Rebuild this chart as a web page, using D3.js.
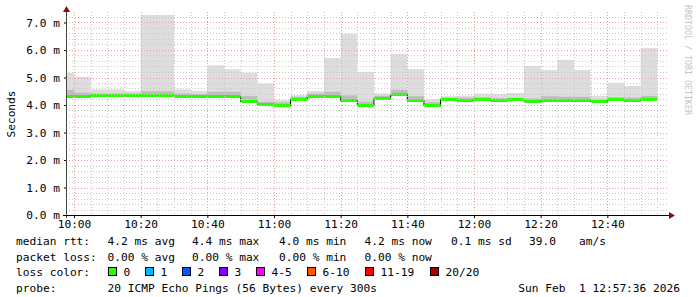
<!DOCTYPE html>
<html>
<head>
<meta charset="utf-8">
<script src="https://cdn.jsdelivr.net/npm/d3@7"></script>
<style>
  body { margin: 0; background: #fff; }
  svg { display: block; }
  text { font-family: "DejaVu Sans Mono", monospace; }
</style>
</head>
<body>
<div id="chart"></div>
<script>
// 5 minute bins, start 09:55 .. 12:50 (values in ms)
var binMinutes = 5;
var pingMax = [5.17, 5.02, 4.57, 4.57, 4.51, 7.30, 7.30, 4.57, 4.51, 5.44, 5.30, 5.17,
               4.78, 4.18, 4.36, 4.51, 5.71, 6.59, 5.20, 4.42, 5.85, 5.31, 4.21, 4.32,
               4.34, 4.41, 4.40, 4.44, 5.42, 5.27, 5.64, 5.27, 4.33, 4.80, 4.69, 6.07];
var pingHi  = [4.55, 4.45, 4.42, 4.42, 4.42, 4.50, 4.50, 4.42, 4.40, 4.48, 4.48, 4.33,
               4.12, 4.10, 4.30, 4.42, 4.48, 4.35, 4.12, 4.33, 4.55, 4.32, 4.10, 4.27,
               4.27, 4.28, 4.25, 4.26, 4.24, 4.32, 4.30, 4.30, 4.20, 4.28, 4.27, 4.33];
var median  = [4.32, 4.32, 4.36, 4.36, 4.36, 4.36, 4.36, 4.32, 4.32, 4.34, 4.34, 4.15,
               4.02, 4.01, 4.21, 4.34, 4.34, 4.18, 4.01, 4.26, 4.39, 4.18, 4.01, 4.22,
               4.19, 4.22, 4.18, 4.21, 4.13, 4.18, 4.18, 4.19, 4.14, 4.20, 4.18, 4.21];
var pingMin = [4.27, 4.27, 4.31, 4.31, 4.31, 4.31, 4.31, 4.27, 4.27, 4.29, 4.29, 4.10,
               3.98, 3.97, 4.16, 4.29, 4.29, 4.13, 3.97, 4.21, 4.33, 4.13, 3.97, 4.17,
               4.15, 4.17, 4.14, 4.16, 4.09, 4.14, 4.14, 4.15, 4.10, 4.16, 4.14, 4.17];

var yTicks = [0, 1, 2, 3, 4, 5, 6, 7];

var rttLabels = ["4.2 ms avg", "4.4 ms max", "4.0 ms min", "4.2 ms now", "0.1 ms sd", "39.0", "am/s"];
var lossLabels = ["0.00 % avg", "0.00 % max", "0.00 % min", "0.00 % now"];
var lossNames = ["0", "1", "2", "3", "4-5", "6-10", "11-19", "20/20"];
var lossColors = ["#26ff00", "#00b8ff", "#0059ff", "#7e00ff", "#ff00ff", "#ff5500", "#ff0000", "#a10000"];
var probeText = "20 ICMP Echo Pings (56 Bytes) every 300s";
var stampText = "Sun Feb  1 12:57:36 2026";

var W = 697, H = 297;
var pLeft = 66, pRight = 666, pTop = 15, pBottom = 215;

var t0 = new Date(2026, 1, 1, 9, 57, 36),
    t1 = new Date(2026, 1, 1, 12, 57, 36),
    firstBin = new Date(2026, 1, 1, 9, 55, 0);

var x = d3.scaleTime().domain([t0, t1]).range([pLeft, pRight]);
var y = d3.scaleLinear().domain([0, 200 / 27.5]).range([pBottom, pTop]);

var bins = median.map(function(m, i) {
  var s = d3.timeMinute.offset(firstBin, i * binMinutes);
  return {start: s, end: d3.timeMinute.offset(s, binMinutes),
          max: pingMax[i], hi: pingHi[i], med: m, min: pingMin[i]};
});

var svg = d3.select("#chart").append("svg")
    .attr("width", W).attr("height", H);

svg.append("rect").attr("width", W).attr("height", H).attr("fill", "#fff");

svg.append("clipPath").attr("id", "plot")
  .append("rect").attr("x", pLeft).attr("y", pTop)
    .attr("width", pRight - pLeft).attr("height", pBottom - pTop);

var plot = svg.append("g").attr("clip-path", "url(#plot)");

// smoke
plot.selectAll("rect.smoke").data(bins).enter().append("rect")
    .attr("class", "smoke")
    .attr("x", function(d) { return x(d.start); })
    .attr("width", function(d) { return x(d.end) - x(d.start); })
    .attr("y", function(d) { return y(d.max); })
    .attr("height", function(d) { return y(d.min) - y(d.max); })
    .attr("fill", "#dddddd");

plot.selectAll("rect.smokehi").data(bins).enter().append("rect")
    .attr("class", "smokehi")
    .attr("x", function(d) { return x(d.start); })
    .attr("width", function(d) { return x(d.end) - x(d.start); })
    .attr("y", function(d) { return y(d.hi); })
    .attr("height", function(d) { return y(d.min) - y(d.hi); })
    .attr("fill", "#bdbdbd");

// grid
var grid = svg.append("g");
var minorY = d3.range(0, 7.21, 0.2);
grid.selectAll("line.hmin").data(minorY).enter().append("line")
    .attr("x1", pLeft).attr("x2", 669)
    .attr("y1", function(d) { return Math.round(y(d)) + 0.5; })
    .attr("y2", function(d) { return Math.round(y(d)) + 0.5; })
    .attr("stroke", "#c8c8c8").attr("stroke-dasharray", "1,2");
grid.selectAll("line.vmin").data(d3.timeMinute.every(5).range(t0, t1)).enter().append("line")
    .attr("y1", 12).attr("y2", pBottom)
    .attr("x1", function(d) { return Math.round(x(d)) + 0.5; })
    .attr("x2", function(d) { return Math.round(x(d)) + 0.5; })
    .attr("stroke", "#c8c8c8").attr("stroke-dasharray", "1,2");
grid.selectAll("line.hmaj").data(yTicks).enter().append("line")
    .attr("x1", pLeft).attr("x2", 669)
    .attr("y1", function(d) { return Math.round(y(d)) + 0.5; })
    .attr("y2", function(d) { return Math.round(y(d)) + 0.5; })
    .attr("stroke", "#eb9e9e").attr("stroke-dasharray", "1,2");
grid.selectAll("line.vmaj").data(d3.timeMinute.every(20).range(t0, t1)).enter().append("line")
    .attr("y1", 12).attr("y2", pBottom)
    .attr("x1", function(d) { return Math.round(x(d)) + 0.5; })
    .attr("x2", function(d) { return Math.round(x(d)) + 0.5; })
    .attr("stroke", "#eb9e9e").attr("stroke-dasharray", "1,2");

// median: dark step line, green band on top
var stepPts = [];
bins.forEach(function(d) {
  stepPts.push([x(d.start), Math.round(y(d.med)) + 0.5]);
  stepPts.push([x(d.end), Math.round(y(d.med)) + 0.5]);
});
plot.append("path")
    .attr("d", d3.line()(stepPts))
    .attr("fill", "none").attr("stroke", "#000").attr("stroke-width", 1);

plot.selectAll("rect.med").data(bins).enter().append("rect")
    .attr("class", "med")
    .attr("x", function(d) { return x(d.start); })
    .attr("width", function(d) { return x(d.end) - x(d.start); })
    .attr("y", function(d) { return Math.round(y(d.med)) - 1; })
    .attr("height", 3)
    .attr("fill", lossColors[0]);

// axes
var xAxis = svg.append("g")
    .attr("transform", "translate(0," + pBottom + ")")
    .call(d3.axisBottom(x)
      .ticks(d3.timeMinute.every(20))
      .tickFormat(d3.timeFormat("%H:%M"))
      .tickSize(3).tickPadding(2));
xAxis.select(".domain").remove();
xAxis.selectAll("text").attr("font-size", "11.2px").attr("font-family", "DejaVu Sans Mono").attr("fill", "#000");

var yAxis = svg.append("g")
    .attr("transform", "translate(" + pLeft + ",0)")
    .call(d3.axisLeft(y)
      .tickValues(yTicks)
      .tickFormat(function(d) { return d3.format(".1f")(d) + " m"; })
      .tickSize(2).tickPadding(4));
yAxis.select(".domain").remove();
yAxis.selectAll("text").attr("font-size", "11.2px").attr("font-family", "DejaVu Sans Mono").attr("fill", "#000");

svg.append("line").attr("x1", pLeft + 0.5).attr("x2", pLeft + 0.5)
    .attr("y1", pBottom + 3).attr("y2", 10).attr("stroke", "#444");
svg.append("line").attr("x1", pLeft - 3).attr("x2", 670)
    .attr("y1", pBottom + 0.5).attr("y2", pBottom + 0.5).attr("stroke", "#000");
svg.append("path").attr("d", "M63,12 L70,12 L66.5,6 Z").attr("fill", "#8b0a0a");
svg.append("path").attr("d", "M669,212 L669,219 L675,215.5 Z").attr("fill", "#8b0a0a");

svg.append("text")
    .attr("transform", "translate(15,114) rotate(-90)")
    .attr("text-anchor", "middle")
    .attr("font-size", "11.2px")
    .text("Seconds");

svg.append("text")
    .attr("transform", "translate(685,5) rotate(90)")
    .attr("font-size", "8.3px")
    .attr("fill", "#c4c4c4")
    .text("RRDTOOL / TOBI OETIKER");

// legend
var fs = "11.2px";
var rows = [245, 261, 276, 292];
var cols = [107.6, 192, 279, 364.5, 451, 529, 579];
var lg = svg.append("g").attr("font-size", fs).attr("fill", "#000");

lg.append("text").attr("x", 16).attr("y", rows[0]).text("median rtt:");
rttLabels.forEach(function(t, i) {
  lg.append("text").attr("x", cols[i]).attr("y", rows[0]).text(t);
});
lg.append("text").attr("x", 16).attr("y", rows[1]).text("packet loss:");
lossLabels.forEach(function(t, i) {
  lg.append("text").attr("x", cols[i]).attr("y", rows[1]).text(t);
});
lg.append("text").attr("x", 16).attr("y", rows[2]).text("loss color:");
var boxX = [108.5, 145.5, 182.5, 219.5, 256.5, 307.5, 365.5, 430.5];
lossNames.forEach(function(t, i) {
  lg.append("rect").attr("x", boxX[i]).attr("y", rows[2] - 8.5)
    .attr("width", 8).attr("height", 8)
    .attr("fill", lossColors[i]).attr("stroke", "#000");
  lg.append("text").attr("x", boxX[i] + 15).attr("y", rows[2]).text(t);
});
lg.append("text").attr("x", 16).attr("y", rows[3]).text("probe:");
lg.append("text").attr("x", cols[0]).attr("y", rows[3]).text(probeText);
lg.append("text").attr("x", 680).attr("y", rows[3]).attr("text-anchor", "end")
    .style("white-space", "pre").text(stampText);
</script>
</body>
</html>
